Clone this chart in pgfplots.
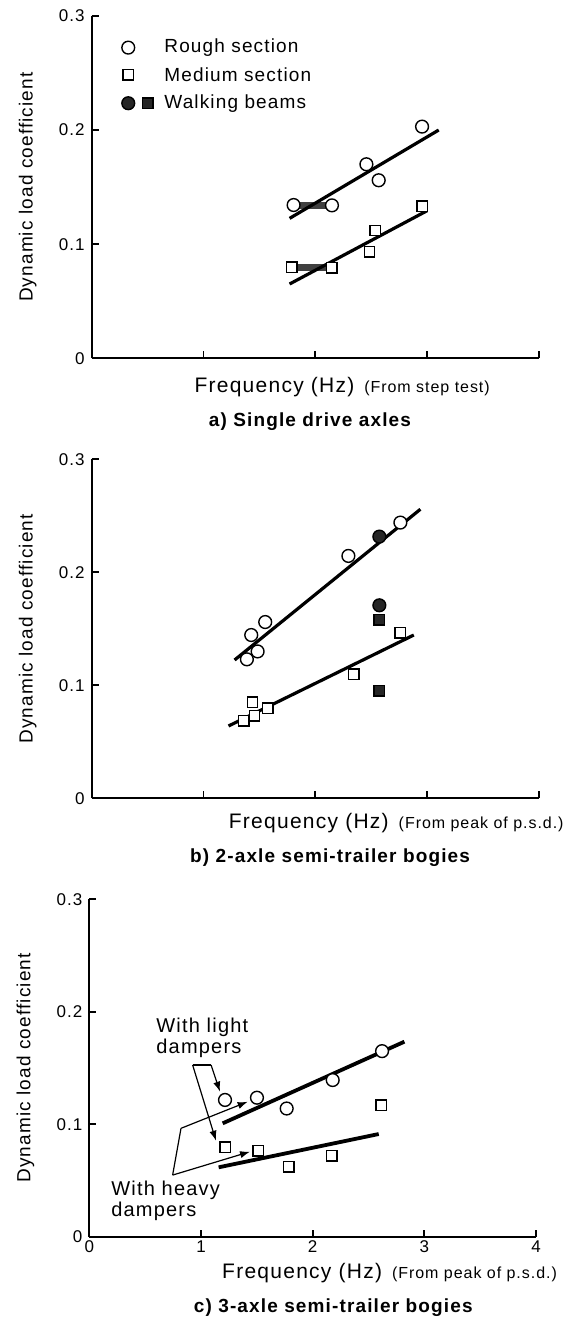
\documentclass[border=0pt]{standalone}
\usepackage{fontspec}
\setmainfont{Liberation Sans}[LetterSpace=6]
\usepackage{pgfplots}
\pgfplotsset{compat=1.18}
\usetikzlibrary{arrows.meta}

\pgfplotsset{
  dlc/.style={
    scale only axis,
    xmin=0, xmax=4, ymin=0, ymax=0.3,
    axis x line*=bottom, axis y line*=left,
    axis line style={line width=1pt, -},
    tick align=inside, major tick length=3.5pt,
    tick style={line width=0.9pt, black},
    xtick={1,2,3,4}, xticklabels={},
    ytick={0,0.1,0.2,0.3}, yticklabels={0,0.1,0.2,0.3},
    tick label style={font=\fontsize{8.5}{10}\selectfont},
    xticklabel style={yshift=1.5pt},
    /pgf/number format/assume math mode=true,
    ylabel={Dynamic load coefficient},
    ylabel style={at={(axis description cs:-0.143,0.5)}, anchor=center,
      font=\fontsize{9.5}{11}\selectfont},
    xlabel style={anchor=center, font=\fontsize{10.5}{12}\selectfont},
    every axis title shift=0pt,
    title style={anchor=center, font=\bfseries\fontsize{9.5}{11}\selectfont},
    clip=false,
  },
  rough/.style={only marks, mark=*, mark size=3.2pt,
    mark options={fill=white, draw=black, line width=0.7pt}},
  medium/.style={only marks, mark=square*, mark size=2.6pt,
    mark options={fill=white, draw=black, line width=0.7pt}},
  beamc/.style={only marks, mark=*, mark size=3.2pt,
    mark options={fill=black!85, draw=black, line width=0.7pt}},
  beams/.style={only marks, mark=square*, mark size=2.6pt,
    mark options={fill=black!85, draw=black, line width=0.7pt}},
  fit/.style={black, line width=1.6pt, no marks},
  note/.style={black, line width=0.6pt, no marks},
  notearrow/.style={black, line width=0.6pt, no marks, -{Latex[length=5pt,width=3.6pt]}},
}
\newcommand{\sub}[1]{{\fontsize{8}{9}\selectfont #1}}

\begin{document}
\begin{tikzpicture}
\path[use as bounding box] (0,0) rectangle (286pt,-671.5pt);

% a) Single drive axles
\begin{axis}[dlc,
    at={(45.85pt,-179.15pt)}, anchor=south west,
    width=223.6pt, height=171.2pt,
    xlabel={Frequency (Hz)\hspace{5pt}\sub{(From step test)}},
    xlabel style={at={(axis description cs:0.56,-0.084)}},
    title={a) Single drive axles},
    title style={at={(axis description cs:0.488,-0.186)}},
]
\addplot[black!75, line width=3.5pt, no marks] coordinates {(1.806,0.1340) (2.149,0.1340)};
\addplot[black!75, line width=3.5pt, no marks] coordinates {(1.791,0.0797) (2.149,0.0797)};
\addplot[fit] coordinates {(1.770,0.1226) (3.104,0.2000)};
\addplot[fit] coordinates {(1.770,0.0651) (3.000,0.1293)};
\addplot[rough] coordinates {(1.806,0.1343) (2.149,0.1340) (2.457,0.1700) (2.567,0.1560) (2.955,0.2030)};
\addplot[medium] coordinates {(1.791,0.0797) (2.149,0.0794) (2.484,0.0934) (2.537,0.1120) (2.955,0.1334)};
% key
\addplot[rough] coordinates {(0.327,0.2722)};
\addplot[medium] coordinates {(0.327,0.2483)};
\addplot[beamc] coordinates {(0.327,0.2235)};
\addplot[beams] coordinates {(0.501,0.2235)};
\node[anchor=west, inner sep=0pt, font=\fontsize{9.5}{11}\selectfont] at (axis cs:0.647,0.2722) {Rough section};
\node[anchor=west, inner sep=0pt, font=\fontsize{9.5}{11}\selectfont] at (axis cs:0.647,0.2483) {Medium section};
\node[anchor=west, inner sep=0pt, font=\fontsize{9.5}{11}\selectfont] at (axis cs:0.647,0.2235) {Walking beams};
\end{axis}

% b) 2-axle semi-trailer bogies
\begin{axis}[dlc,
    at={(45.85pt,-399.15pt)}, anchor=south west,
    width=223.6pt, height=169.5pt,
    xlabel={Frequency (Hz)\hspace{5pt}\sub{(From peak of p.s.d.)}},
    xlabel style={at={(axis description cs:0.681,-0.073)}},
    title={b) 2-axle semi-trailer bogies},
    title style={at={(axis description cs:0.533,-0.176)}},
]
\addplot[fit] coordinates {(1.278,0.1224) (2.940,0.2558)};
\addplot[fit] coordinates {(1.224,0.0640) (2.881,0.1445)};
\addplot[rough] coordinates {(1.388,0.1230) (1.427,0.1445) (1.484,0.1300) (1.552,0.1560) (2.296,0.2145) (2.761,0.2440)};
\addplot[medium] coordinates {(1.361,0.0687) (1.439,0.0850) (1.457,0.0729) (1.576,0.0796) (2.343,0.1100) (2.761,0.1466)};
\addplot[beamc] coordinates {(2.573,0.2316) (2.573,0.1708)};
\addplot[beams] coordinates {(2.573,0.1578) (2.573,0.0953)};
\end{axis}

% c) 3-axle semi-trailer bogies
\begin{axis}[dlc,
    at={(44.65pt,-618.35pt)}, anchor=south west,
    width=223.4pt, height=168.7pt,
    xtick={0,1,2,3,4}, xticklabels={0,1,2,3,4},
    xlabel={Frequency (Hz)\hspace{5pt}\sub{(From peak of p.s.d.)}},
    xlabel style={at={(axis description cs:0.672,-0.108)}},
    title={c) 3-axle semi-trailer bogies},
    title style={at={(axis description cs:0.546,-0.211)}},
]
\addplot[fit, line width=1.9pt] coordinates {(1.194,0.1008) (2.821,0.1734)};
\addplot[fit, line width=1.9pt] coordinates {(1.158,0.0617) (2.591,0.0913)};
\addplot[rough] coordinates {(1.215,0.1216) (1.501,0.1236) (1.767,0.1140) (2.179,0.1393) (2.621,0.1650)};
\addplot[medium] coordinates {(1.215,0.0795) (1.513,0.0765) (1.785,0.0623) (2.170,0.0720) (2.612,0.1170)};
% light dampers pointer
\addplot[note] coordinates {(0.925,0.1527) (1.090,0.1527)};
\addplot[notearrow] coordinates {(1.090,0.1527) (1.170,0.1290)};
\addplot[notearrow] coordinates {(0.925,0.1527) (1.134,0.0854)};
% heavy dampers pointer
\addplot[note] coordinates {(0.746,0.0548) (0.821,0.0964)};
\addplot[notearrow] coordinates {(0.821,0.0964) (1.418,0.1200)};
\addplot[notearrow] coordinates {(0.746,0.0548) (1.439,0.0756)};
\node[anchor=west, align=left, inner sep=0pt, font=\fontsize{10}{10.8}\selectfont] at (axis cs:0.597,0.177) {With light\\dampers};
\node[anchor=west, align=left, inner sep=0pt, font=\fontsize{10}{10.8}\selectfont] at (axis cs:0.194,0.032) {With heavy\\dampers};
\end{axis}
\end{tikzpicture}
\end{document}
